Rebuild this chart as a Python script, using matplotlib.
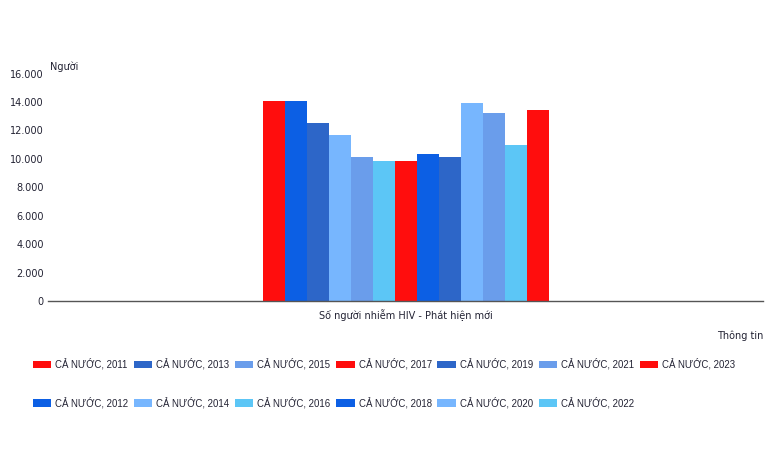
import numpy as np
import matplotlib.pyplot as plt
import matplotlib as mt
from matplotlib.patches import Patch

years = [2011, 2012, 2013, 2014, 2015, 2016, 2017, 2018, 2019, 2020, 2021, 2022, 2023]
values = [14050, 14100, 12550, 11650, 10120, 9880, 9880, 10370, 10120, 13920, 13200, 11000, 13400]
category = 'Số người nhiễm HIV - Phát hiện mới'
yticks = [0, 2000, 4000, 6000, 8000, 10000, 12000, 14000, 16000]

palette = ['#ff0d0d', '#0c5fe4', '#2d66c8', '#77b6fe', '#6a9deb', '#5cc6f6']
colors = [palette[i % 6] for i in range(len(years))]

mt.rcParams['font.family'] = 'DejaVu Sans'
txt = '#222233'

fig = plt.figure(figsize=(7.68, 4.5), dpi=100)
ax = fig.add_axes([48/768, 1-301/450, (763-48)/768, (301-73.5)/450])

n = len(years)
group_w = 0.4
bw = group_w / n
x = -group_w/2 + bw/2 + np.arange(n)*bw
ax.bar(x, values, width=bw, color=colors, linewidth=0)

ax.set_xlim(-0.5, 0.5)
ax.set_ylim(0, 16000)
ax.set_yticks(yticks)
ax.set_yticklabels([f'{v:,}'.replace(',', '.') for v in yticks], fontsize=7, color=txt)
ax.set_xticks([])
for s in ['top', 'right', 'left']:
    ax.spines[s].set_visible(False)
ax.spines['bottom'].set_color('#555555')
ax.spines['bottom'].set_linewidth(1.0)
ax.tick_params(axis='y', length=0, pad=3)

fig.text(50/768, 1-67/450, 'Người', fontsize=7, color=txt, va='center', ha='left')
fig.text(406/768, 1-315/450, category, fontsize=7, color=txt, va='center', ha='center')
fig.text(763/768, 1-336/450, 'Thông tin', fontsize=7, color=txt, va='center', ha='right')

handles = [Patch(facecolor=c, edgecolor='none') for c in colors]
labels = [f'CẢ NƯỚC, {y}' for y in years]
fig.legend(handles, labels, loc='upper left', bbox_to_anchor=(33/768, 1-358/450),
           ncol=7, frameon=False, handlelength=1.9, handleheight=0.8,
           handletextpad=0.42, columnspacing=0.6, labelspacing=2.85, borderpad=0,
           borderaxespad=0, labelcolor=txt,
           prop={'family': 'Liberation Sans', 'size': 6.9})

fig.savefig('out.png', dpi=100)
